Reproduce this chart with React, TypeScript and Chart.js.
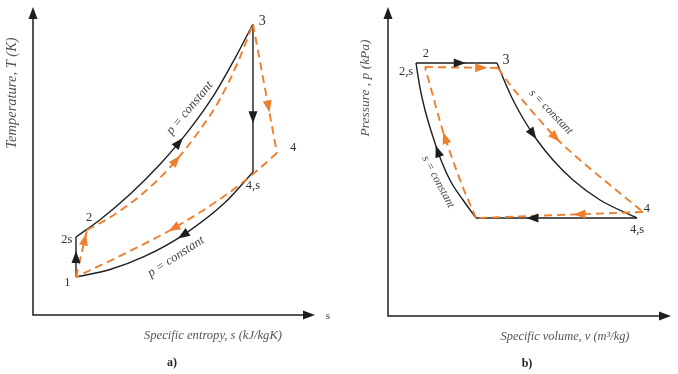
import React, { useEffect, useRef } from "react";
import { Chart, registerables } from "chart.js";

Chart.register(...registerables);

// ---------- a) T–s diagram (relative units, 0–100 on both axes) ----------
// Ideal cycle (black, solid)
const A_IDEAL_COMP_S = [15.25, 15.25];
const A_IDEAL_COMP_T = [12.34, 25.32];
const A_IDEAL_HEAT_S = [15.25, 23.76, 34.4, 45.04, 55.67, 64.54, 71.63, 78.01];
const A_IDEAL_HEAT_T = [25.32, 30.94, 39.22, 48.96, 60.45, 71.98, 83.34, 94.48];
const A_IDEAL_EXP_S = [78.01, 78.01];
const A_IDEAL_EXP_T = [94.48, 46.43];
const A_IDEAL_REJ_S = [78.01, 68.09, 53.9, 39.72, 27.3, 15.25];
const A_IDEAL_REJ_T = [46.43, 36.49, 26.36, 19.09, 14.77, 12.34];
// Real cycle (orange, dashed)
const A_REAL_COMP_S = [15.25, 19.15];
const A_REAL_COMP_T = [12.34, 27.6];
const A_REAL_HEAT_S = [19.15, 27.3, 37.94, 48.58, 59.22, 66.31, 72.7, 78.01];
const A_REAL_HEAT_T = [27.6, 31.69, 38.7, 47.95, 60.13, 70.13, 82.14, 94.48];
const A_REAL_EXP_S = [78.01, 86.52];
const A_REAL_EXP_T = [94.48, 52.6];
const A_REAL_REJ_S = [86.52, 78.37, 68.79, 50.35, 33.33, 15.25];
const A_REAL_REJ_T = [52.6, 46.04, 39.22, 28.41, 20.29, 12.34];
// State point labels
const A_LABELS = ["1", "2s", "2", "3", "4", "4,s"];
const A_LABEL_S = [12.2, 12.0, 19.9, 81.3, 92.2, 78.0];
const A_LABEL_T = [10.6, 24.4, 31.5, 95.2, 54.2, 41.9];

// ---------- b) p–v diagram (relative units, 0–100 on both axes) ----------
const B_IDEAL_COMP_V = [31.1, 26.5, 22.26, 18.73, 15.9, 13.07, 11.31, 9.89];
const B_IDEAL_COMP_P = [31.72, 37.54, 43.37, 50.49, 57.93, 66.67, 73.79, 81.88];
const B_IDEAL_HEAT_V = [9.89, 38.52];
const B_IDEAL_HEAT_P = [81.88, 81.88];
const B_IDEAL_EXP_V = [38.52, 40.99, 44.17, 48.06, 52.65, 58.3, 65.37, 74.91, 87.99];
const B_IDEAL_EXP_P = [81.88, 76.38, 69.9, 63.43, 56.96, 50.49, 44.01, 37.54, 31.72];
const B_IDEAL_REJ_V = [87.99, 31.1];
const B_IDEAL_REJ_P = [31.72, 31.72];
const B_REAL_COMP_V = [31.1, 26.15, 22.26, 18.73, 15.9, 13.07];
const B_REAL_COMP_P = [31.72, 42.39, 52.1, 61.81, 71.2, 80.58];
const B_REAL_HEAT_V = [13.07, 38.87];
const B_REAL_HEAT_P = [80.58, 80.26];
const B_REAL_EXP_V = [38.87, 42.4, 46.64, 52.65, 59.72, 67.84, 78.45, 90.11];
const B_REAL_EXP_P = [80.26, 75.73, 70.87, 64.4, 57.28, 50.49, 42.39, 33.66];
const B_REAL_REJ_V = [90.11, 31.1];
const B_REAL_REJ_P = [33.66, 31.72];
const B_LABELS = ["2", "2,s", "3", "4", "4,s"];
const B_LABEL_V = [13.4, 6.4, 41.7, 91.5, 88.0];
const B_LABEL_P = [84.8, 79.0, 82.9, 34.6, 27.8];

const BLACK = "#1e1e1e";
const ORANGE = "#ee7f2f";
const SERIF = "'Liberation Serif', 'DejaVu Serif', serif";

type Seg = { x: number[]; y: number[]; real: boolean; curved: boolean; arrow: number };

function makeDatasets(segs: Seg[]) {
  return segs.map((sg) => ({
    data: sg.x.map((v, i) => ({ x: v, y: sg.y[i] })),
    borderColor: sg.real ? ORANGE : BLACK,
    borderWidth: sg.real ? 1.9 : 1.4,
    borderDash: sg.real ? [8, 5] : [],
    tension: sg.curved ? 0.4 : 0,
    cubicInterpolationMode: sg.curved ? "monotone" : "default",
    pointRadius: 0,
    fill: false,
    clip: false,
    order: sg.real ? 0 : 1,
    arrowAt: sg.arrow,
  }));
}

const arrowPlugin = {
  id: "pathArrows",
  afterDatasetsDraw(chart: any) {
    const ctx = chart.ctx;
    chart.data.datasets.forEach((ds: any, di: number) => {
      const pts = chart.getDatasetMeta(di).data as any[];
      if (!pts || pts.length < 2) return;
      const samples: { x: number; y: number }[] = [];
      for (let i = 0; i < pts.length - 1; i++) {
        const a = pts[i];
        const b = pts[i + 1];
        const curved = ds.tension > 0 && a.cp2x != null && b.cp1x != null;
        const N = curved ? 60 : 1;
        for (let k = i === 0 ? 0 : 1; k <= N; k++) {
          const t = k / N;
          if (curved) {
            const u = 1 - t;
            samples.push({
              x: u * u * u * a.x + 3 * u * u * t * a.cp2x + 3 * u * t * t * b.cp1x + t * t * t * b.x,
              y: u * u * u * a.y + 3 * u * u * t * a.cp2y + 3 * u * t * t * b.cp1y + t * t * t * b.y,
            });
          } else {
            samples.push({ x: a.x + (b.x - a.x) * t, y: a.y + (b.y - a.y) * t });
          }
        }
      }
      const cum = [0];
      for (let i = 1; i < samples.length; i++) {
        cum.push(cum[i - 1] + Math.hypot(samples[i].x - samples[i - 1].x, samples[i].y - samples[i - 1].y));
      }
      const target = cum[cum.length - 1] * ds.arrowAt;
      let j = 1;
      while (j < cum.length - 1 && cum[j] < target) j++;
      const p0 = samples[j - 1];
      const p1 = samples[j];
      const f = (target - cum[j - 1]) / Math.max(1e-6, cum[j] - cum[j - 1]);
      const cx = p0.x + (p1.x - p0.x) * f;
      const cy = p0.y + (p1.y - p0.y) * f;
      const len = Math.hypot(p1.x - p0.x, p1.y - p0.y) || 1;
      const dx = (p1.x - p0.x) / len;
      const dy = (p1.y - p0.y) / len;
      const L = 12;
      const W = 4.5;
      ctx.save();
      ctx.fillStyle = ds.borderColor;
      ctx.beginPath();
      ctx.moveTo(cx + dx * L * 0.5, cy + dy * L * 0.5);
      ctx.lineTo(cx - dx * L * 0.5 - dy * W, cy - dy * L * 0.5 + dx * W);
      ctx.lineTo(cx - dx * L * 0.5 + dy * W, cy - dy * L * 0.5 - dx * W);
      ctx.closePath();
      ctx.fill();
      ctx.restore();
    });
  },
};

type Txt = { text: string; x: number; y: number; rot?: number; font: string; color: string };

type PanelCfg = {
  yTitle: string;
  xTitle: string;
  yTitleSize: number;
  xTitleSize: number;
  yTitleDx: number;
  yTitleDy: number;
  xTitleDx: number;
  caption: string;
  xEndLabel?: string;
  points: { labels: string[]; xs: number[]; ys: number[]; bigIndex: number };
  notes: Txt[];
};

function makeDecorPlugin(cfg: PanelCfg) {
  return {
    id: "panelDecor",
    beforeDatasetsDraw(chart: any) {
      const { ctx, chartArea } = chart;
      const { left, right, top, bottom } = chartArea;
      const L = 12;
      const W = 4.5;
      ctx.save();
      ctx.strokeStyle = BLACK;
      ctx.fillStyle = BLACK;
      ctx.lineWidth = 1.5;
      ctx.beginPath();
      ctx.moveTo(left, top + L);
      ctx.lineTo(left, bottom);
      ctx.lineTo(right - L, bottom);
      ctx.stroke();
      ctx.beginPath();
      ctx.moveTo(left, top);
      ctx.lineTo(left - W, top + L);
      ctx.lineTo(left + W, top + L);
      ctx.closePath();
      ctx.fill();
      ctx.beginPath();
      ctx.moveTo(right, bottom);
      ctx.lineTo(right - L, bottom - W);
      ctx.lineTo(right - L, bottom + W);
      ctx.closePath();
      ctx.fill();
      ctx.restore();
    },
    afterDraw(chart: any) {
      const { ctx, chartArea, scales } = chart;
      const { left, top, bottom, right } = chartArea;
      const draw = (t: Txt) => {
        ctx.save();
        ctx.font = t.font;
        ctx.fillStyle = t.color;
        ctx.textAlign = "center";
        ctx.textBaseline = "middle";
        ctx.translate(t.x, t.y);
        if (t.rot) ctx.rotate((t.rot * Math.PI) / 180);
        ctx.fillText(t.text, 0, 0);
        ctx.restore();
      };
      draw({ text: cfg.yTitle, x: left + cfg.yTitleDx, y: top + cfg.yTitleDy, rot: -90, font: `italic ${cfg.yTitleSize}px ${SERIF}`, color: "#555" });
      draw({ text: cfg.xTitle, x: left + cfg.xTitleDx, y: bottom + 21, font: `italic ${cfg.xTitleSize}px ${SERIF}`, color: "#555" });
      draw({ text: cfg.caption, x: left + 139, y: bottom + 48, font: `bold 12px ${SERIF}`, color: "#222" });
      if (cfg.xEndLabel) {
        draw({ text: cfg.xEndLabel, x: right + 13, y: bottom + 1, font: `11px ${SERIF}`, color: "#444" });
      }
      const p = cfg.points;
      p.labels.forEach((lab, i) => {
        draw({
          text: lab,
          x: scales.x.getPixelForValue(p.xs[i]),
          y: scales.y.getPixelForValue(p.ys[i]),
          font: `${i === p.bigIndex ? 14 : 12.5}px ${SERIF}`,
          color: "#333",
        });
      });
      cfg.notes.forEach((n) =>
        draw({ ...n, x: scales.x.getPixelForValue(n.x), y: scales.y.getPixelForValue(n.y) })
      );
    },
  };
}

function buildChart(canvas: HTMLCanvasElement, segs: Seg[], padding: any, cfg: PanelCfg) {
  return new Chart(canvas, {
    type: "line",
    data: { datasets: makeDatasets(segs) as any },
    options: {
      responsive: false,
      animation: false,
      events: [],
      layout: { padding },
      scales: {
        x: { type: "linear", min: 0, max: 100, display: false },
        y: { type: "linear", min: 0, max: 100, display: false },
      },
      plugins: { legend: { display: false }, tooltip: { enabled: false } },
    },
    plugins: [makeDecorPlugin(cfg), arrowPlugin],
  });
}

export default function App() {
  const refA = useRef<HTMLCanvasElement>(null);
  const refB = useRef<HTMLCanvasElement>(null);

  useEffect(() => {
    const segsA: Seg[] = [
      { x: A_IDEAL_COMP_S, y: A_IDEAL_COMP_T, real: false, curved: false, arrow: 0.5 },
      { x: A_IDEAL_HEAT_S, y: A_IDEAL_HEAT_T, real: false, curved: true, arrow: 0.5 },
      { x: A_IDEAL_EXP_S, y: A_IDEAL_EXP_T, real: false, curved: false, arrow: 0.63 },
      { x: A_IDEAL_REJ_S, y: A_IDEAL_REJ_T, real: false, curved: true, arrow: 0.45 },
      { x: A_REAL_COMP_S, y: A_REAL_COMP_T, real: true, curved: false, arrow: 0.8 },
      { x: A_REAL_HEAT_S, y: A_REAL_HEAT_T, real: true, curved: true, arrow: 0.42 },
      { x: A_REAL_EXP_S, y: A_REAL_EXP_T, real: true, curved: false, arrow: 0.64 },
      { x: A_REAL_REJ_S, y: A_REAL_REJ_T, real: true, curved: true, arrow: 0.54 },
    ];
    const segsB: Seg[] = [
      { x: B_IDEAL_COMP_V, y: B_IDEAL_COMP_P, real: false, curved: true, arrow: 0.46 },
      { x: B_IDEAL_HEAT_V, y: B_IDEAL_HEAT_P, real: false, curved: false, arrow: 0.54 },
      { x: B_IDEAL_EXP_V, y: B_IDEAL_EXP_P, real: false, curved: true, arrow: 0.37 },
      { x: B_IDEAL_REJ_V, y: B_IDEAL_REJ_P, real: false, curved: false, arrow: 0.65 },
      { x: B_REAL_COMP_V, y: B_REAL_COMP_P, real: true, curved: true, arrow: 0.54 },
      { x: B_REAL_HEAT_V, y: B_REAL_HEAT_P, real: true, curved: false, arrow: 0.77 },
      { x: B_REAL_EXP_V, y: B_REAL_EXP_P, real: true, curved: true, arrow: 0.44 },
      { x: B_REAL_REJ_V, y: B_REAL_REJ_P, real: true, curved: false, arrow: 0.38 },
    ];
    const chartA = buildChart(
      refA.current!,
      segsA,
      { left: 33, top: 7, right: 24, bottom: 59 },
      {
        yTitle: "Temperature, T (K)",
        xTitle: "Specific entropy, s (kJ/kgK)",
        yTitleSize: 14.5,
        xTitleSize: 12.6,
        yTitleDx: -21,
        yTitleDy: 86,
        xTitleDx: 180,
        caption: "a)",
        xEndLabel: "s",
        points: { labels: A_LABELS, xs: A_LABEL_S, ys: A_LABEL_T, bigIndex: 3 },
        notes: [
          { text: "p = constant", x: 55.6, y: 67.2, rot: -50, font: `italic 12.8px ${SERIF}`, color: "#444" },
          { text: "p = constant", x: 50.7, y: 18.9, rot: -33, font: `italic 12.8px ${SERIF}`, color: "#444" },
        ],
      }
    );
    const chartB = buildChart(
      refB.current!,
      segsB,
      { left: 49, top: 7, right: 7, bottom: 58 },
      {
        yTitle: "Pressure , p (kPa)",
        xTitle: "Specific volume, v (m\u00B3/kg)",
        yTitleSize: 13.5,
        xTitleSize: 12.4,
        yTitleDx: -23,
        yTitleDy: 81,
        xTitleDx: 177,
        caption: "b)",
        points: { labels: B_LABELS, xs: B_LABEL_V, ys: B_LABEL_P, bigIndex: 2 },
        notes: [
          { text: "s = constant", x: 57.6, y: 66.0, rot: 46, font: `italic 11.6px ${SERIF}`, color: "#444" },
          { text: "s = constant", x: 17.7, y: 43.4, rot: 62, font: `italic 11.6px ${SERIF}`, color: "#444" },
        ],
      }
    );
    return () => {
      chartA.destroy();
      chartB.destroy();
    };
  }, []);

  return (
    <div style={{ position: "absolute", left: 0, top: 0, width: 678, height: 374, background: "#fff" }}>
      <canvas ref={refA} width={339} height={374} style={{ position: "absolute", left: 0, top: 0 }} />
      <canvas ref={refB} width={339} height={374} style={{ position: "absolute", left: 339, top: 0 }} />
    </div>
  );
}
